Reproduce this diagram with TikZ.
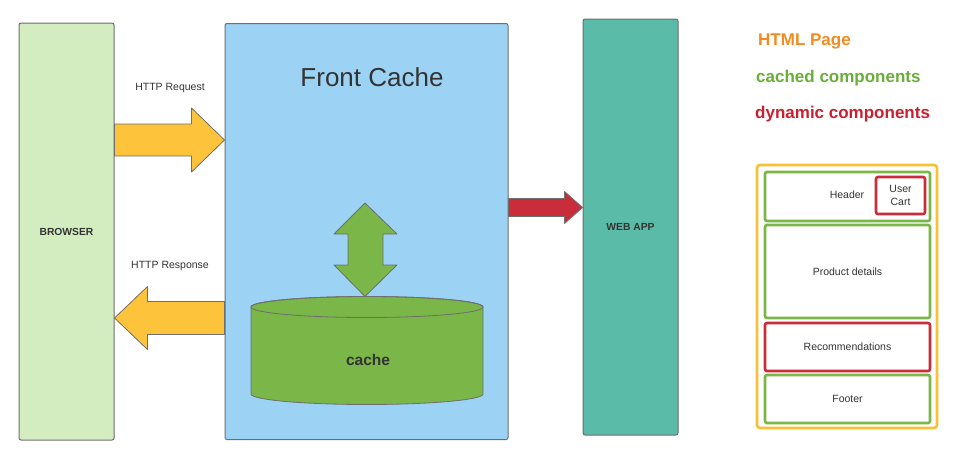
\documentclass[tikz,border=0pt]{standalone}
\usepackage{fontspec}
\setmainfont{Liberation Sans}
\usetikzlibrary{calc, backgrounds}
\definecolor{LGreen}{HTML}{D3EDC1}
\definecolor{LBlue}{HTML}{9CD3F4}
\definecolor{Teal}{HTML}{5BBBA9}
\definecolor{Amber}{HTML}{FDC43B}
\definecolor{Leaf}{HTML}{7AB648}
\definecolor{Crimson}{HTML}{C92D39}
\definecolor{Edge}{HTML}{6E6E6E}
\definecolor{Ink}{HTML}{333333}
\definecolor{OrangeText}{HTML}{F58A1F}
\definecolor{GreenText}{HTML}{69AE3A}
\definecolor{RedText}{HTML}{C8202E}
\definecolor{PageBox}{HTML}{F8C035}
\tikzset{
    tier/.style={draw=Edge, line width=1pt, rounded corners=2pt, inner sep=0pt,
        text=Ink, font=\fontsize{10.3}{12}\selectfont\bfseries},
    arrowline/.style={draw=Edge, line width=0.8pt, line join=round},
    part/.style={draw, line width=2.6pt, rounded corners=2pt, fill=white, inner sep=0pt,
        text=Ink, font=\fontsize{10.5}{12.5}\selectfont, align=center},
    legend/.style={anchor=west, inner sep=0pt, font=\fontsize{17}{20}\selectfont\bfseries},
    caption/.style={text=Ink, font=\fontsize{10.5}{12}\selectfont}
}
% fat horizontal arrow: tail, tip, half shaft, half head, head length, fill
\NewDocumentCommand{\FatArrow}{m m m m m m}{
    \draw[arrowline, fill=#6]
        ($(#1)+(0,-#3)$) -- ($(#2)!#5!(#1)+(0,-#3)$) -- ($(#2)!#5!(#1)+(0,-#4)$)
        -- (#2) -- ($(#2)!#5!(#1)+(0,#4)$) -- ($(#2)!#5!(#1)+(0,#3)$)
        -- ($(#1)+(0,#3)$) -- cycle;
}

\begin{document}
\begin{tikzpicture}[x=1pt, y=1pt]
\useasboundingbox (0,0) rectangle (960,-464);

% tiers
\node[tier, fill=LGreen, minimum width=95, minimum height=417] (browser) at (66.5,-231.5) {BROWSER};
\node[tier, fill=LBlue, minimum width=283, minimum height=416] (front) at (366.5,-231.5) {};
\node[tier, fill=Teal, minimum width=95, minimum height=416] (webapp) at (630.5,-227) {WEB APP};
\node[text=Ink, font=\fontsize{26}{30}\selectfont, anchor=base] (title) at (372,-86) {Front Cache};

% request / response
\node[caption] (req-label) at (170,-88) {HTTP Request};
\node[caption] (resp-label) at (170,-266) {HTTP Response};
\coordinate (req-tail) at (browser.east |- 0,-140);
\coordinate (req-tip) at (front.west |- 0,-140);
\coordinate (resp-tail) at (front.west |- 0,-318);
\coordinate (resp-tip) at (browser.east |- 0,-318);
\FatArrow{req-tail}{req-tip}{16}{32}{33pt}{Amber}
\FatArrow{resp-tail}{resp-tip}{16.5}{31.5}{33pt}{Amber}

% call to web app
\coordinate (app-tail) at (front.east |- 0,-207.5);
\coordinate (app-tip) at (webapp.west |- 0,-207.5);
\FatArrow{app-tail}{app-tip}{9}{16}{18pt}{Crimson}

% cache store
\draw[arrowline, fill=Leaf] (251,-307) -- (251,-394) arc (180:360:116 and 10.5)
    -- (483,-307) arc (0:180:116 and 10.5) -- cycle;
\draw[arrowline] (367,-307) ellipse (116 and 10.5);
\node[text=Ink, font=\fontsize{15.5}{18}\selectfont\bfseries] (cache) at (368,-360) {cache};
\coordinate (store-top) at (365,-296.5);
\draw[arrowline, fill=Leaf] (store-top) -- (334,-265) -- (348,-265) -- (348,-234) -- (334,-234)
    -- (365,-203) -- (397,-234) -- (383,-234) -- (383,-265) -- (397,-265) -- cycle;

% legend
\node[legend, text=OrangeText] (leg-page) at (758,-41) {HTML Page};
\node[legend, text=GreenText] (leg-cached) at (756,-78.5) {cached components};
\node[legend, text=RedText] (leg-dynamic) at (755,-114) {dynamic components};

% page layout
\node[draw=PageBox, line width=2.6pt, rounded corners=3pt, minimum width=180, minimum height=263,
    inner sep=0pt] (page) at (847,-296.5) {};
\node[part, draw=Leaf, minimum width=165, minimum height=49] (header) at (847.5,-196.5) {};
\node[text=Ink, font=\fontsize{10.5}{12.5}\selectfont] (header-text) at (847,-195) {Header};
\node[part, draw=Crimson, minimum width=49, minimum height=37] (cart) at (900.5,-195.5) {User\\Cart};
\node[part, draw=Leaf, minimum width=165, minimum height=93] (details) at (847.5,-271.5) {Product details};
\node[part, draw=Crimson, minimum width=165, minimum height=48] (recos) at (847.5,-347) {Recommendations};
\node[part, draw=Leaf, minimum width=165, minimum height=48] (footer) at (847.5,-399) {Footer};
\end{tikzpicture}
\end{document}
